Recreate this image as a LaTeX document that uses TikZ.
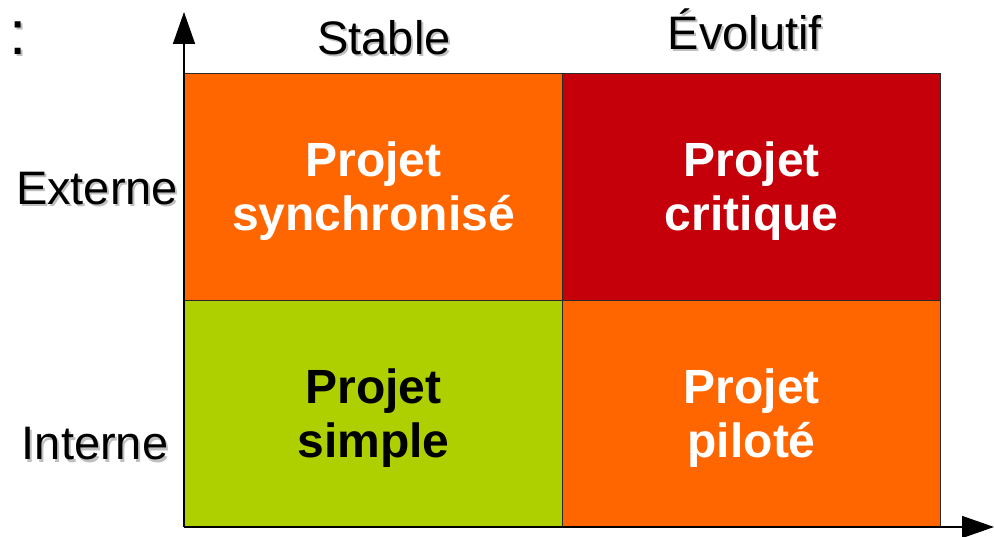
\documentclass[tikz,border=0pt]{standalone}
\usepackage{fontspec}
\setmainfont{Liberation Sans}
\usetikzlibrary{arrows.meta}
\definecolor{cOrange}{HTML}{FF6600}
\definecolor{cRed}{HTML}{C5000B}
\definecolor{cGreen}{HTML}{AECF00}
\definecolor{cBorder}{HTML}{2A2A2A}
\begin{document}
\begin{tikzpicture}[x=1pt,y=-1pt,
  cell/.style={draw=cBorder, line width=1.3pt, minimum width=378pt, minimum height=227pt,
    anchor=north west, inner sep=0pt},
  celltext/.style={inner sep=0pt, align=center, text=white,
    font=\fontsize{48}{54}\selectfont\bfseries},
  lbl/.style={anchor=base, inner sep=0pt, font=\fontsize{47}{54}\selectfont, text=black},
  shd/.style={lbl, text=black!25},
  axis/.style={line width=1.5pt, -{Triangle[length=32pt,width=22pt]}}
]
\useasboundingbox (0,0) rectangle (994,537);
% cells
\node[cell, fill=cOrange] (c11) at (184,73) {};
\node[cell, fill=cRed] (c12) at (562,73) {};
\node[cell, fill=cGreen] (c21) at (184,300) {};
\node[cell, fill=cOrange] (c22) at (562,300) {};
\node[celltext] (t11) at ([yshift=-4pt]c11.center) {Projet\\synchronisé};
\node[celltext] (t12) at ([yshift=-4pt]c12.center) {Projet\\critique};
\node[celltext, text=black] (t21) at ([yshift=-4pt]c21.center) {Projet\\simple};
\node[celltext] (t22) at ([yshift=-4pt]c22.center) {Projet\\piloté};
% axes
\coordinate (o) at (184,527);
\coordinate (ytip) at (184,12);
\coordinate (xtip) at (994,527);
\draw[axis] (o) -- (ytip);
\draw[axis] (o) -- (xtip);
% labels with shadows
\node[shd] (stableS) at (386,57) {Stable};
\node[lbl] (stable) at (384,55) {Stable};
\node[shd] (evolS) at (747,52) {Évolutif};
\node[lbl] (evol) at (745,50) {Évolutif};
\node[shd] (extS) at (99,207) {Externe};
\node[lbl] (ext) at (97,205) {Externe};
\node[shd] (intS) at (97,462) {Interne};
\node[lbl] (int) at (95,460) {Interne};
\node[shd, font=\fontsize{62}{70}\selectfont] (colonS) at (20,57) {:};
\node[lbl, font=\fontsize{62}{70}\selectfont] (colon) at (18,55) {:};
\end{tikzpicture}
\end{document}
